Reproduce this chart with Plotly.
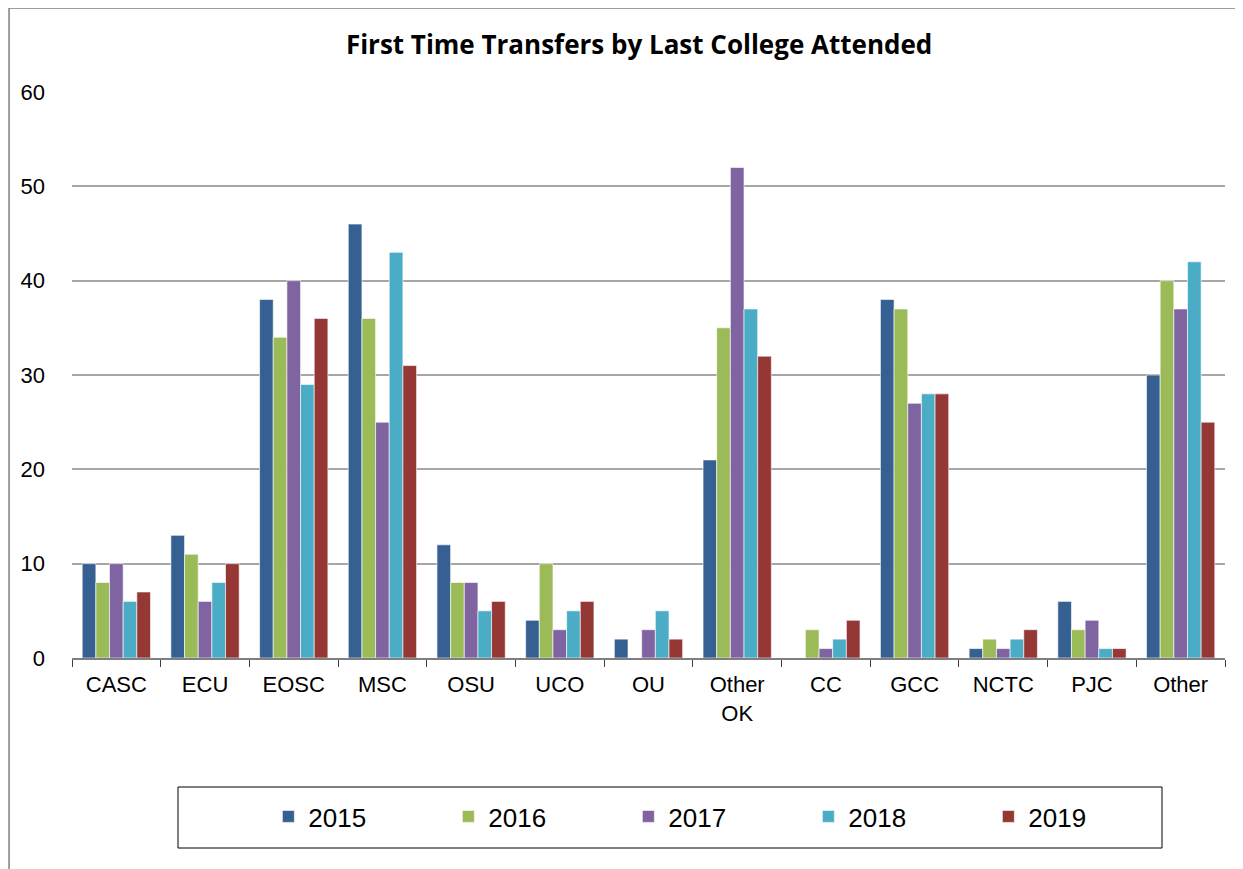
import plotly.graph_objects as go

colleges = ["CASC", "ECU", "EOSC", "MSC", "OSU", "UCO", "OU", "Other<br>OK",
            "CC", "GCC", "NCTC", "PJC", "Other"]
y2015 = [10, 13, 38, 46, 12, 4, 2, 21, 0, 38, 1, 6, 30]
y2016 = [8, 11, 34, 36, 8, 10, 0, 35, 3, 37, 2, 3, 40]
y2017 = [10, 6, 40, 25, 8, 3, 3, 52, 1, 27, 1, 4, 37]
y2018 = [6, 8, 29, 43, 5, 5, 5, 37, 2, 28, 2, 1, 42]
y2019 = [7, 10, 36, 31, 6, 6, 2, 32, 4, 28, 3, 1, 25]

years = ["2015", "2016", "2017", "2018", "2019"]
series = [y2015, y2016, y2017, y2018, y2019]
colors = ["#366092", "#9BBB59", "#8064A2", "#4BACC6", "#953735"]

fig = go.Figure()
for name, vals, col in zip(years, series, colors):
    fig.add_trace(go.Bar(
        name=name, x=colleges, y=vals,
        marker=dict(color=col, line=dict(color="rgba(255,255,255,0.6)", width=1)),
    ))

# page body has an 8px margin, so the figure is 8px smaller and shifted
fig.update_layout(
    width=1235, height=861,
    margin=dict(l=64, r=18, t=84, b=211, autoexpand=False),
    paper_bgcolor="white", plot_bgcolor="white",
    barmode="group", bargap=0.23, bargroupgap=0,
    font=dict(family="Liberation Sans, Arial, sans-serif", color="black"),
    title=dict(text="<b>First Time Transfers by Last College Attended</b>",
               x=0.511, xanchor="center", y=1 - 37 / 861, yanchor="middle",
               font=dict(size=26, family="Open Sans, sans-serif", color="black")),
    legend=dict(orientation="h", x=0.5606, xanchor="center", y=-0.280, yanchor="middle",
                font=dict(size=26), entrywidth=135, bgcolor="rgba(0,0,0,0)",
                borderwidth=0),
    showlegend=True,
)

fig.update_yaxes(range=[0, 60], dtick=10, showgrid=True, gridcolor="#a6a6a6",
                 gridwidth=1.5, zeroline=False, showline=False,
                 tickfont=dict(size=22), ticklabelstandoff=26)
fig.update_xaxes(showline=True, linecolor="#7f7f7f", linewidth=1.5,
                 ticks="outside", tickson="boundaries", ticklen=7, tickcolor="#404040",
                 tickfont=dict(size=22), ticklabelstandoff=6)

# outer chart border and legend box
fig.add_shape(type="rect", xref="paper", yref="paper",
              x0=-0.0546, x1=1.2, y0=-0.6, y1=1.1484,
              line=dict(color="#7f7f7f", width=1.5))
fig.add_shape(type="rect", xref="paper", yref="paper",
              x0=(178 - 72) / 1153, x1=(1162 - 72) / 1153,
              y0=(658 - 848) / 566, y1=(658 - 787) / 566,
              line=dict(color="black", width=1))

fig.write_html("out.html")
